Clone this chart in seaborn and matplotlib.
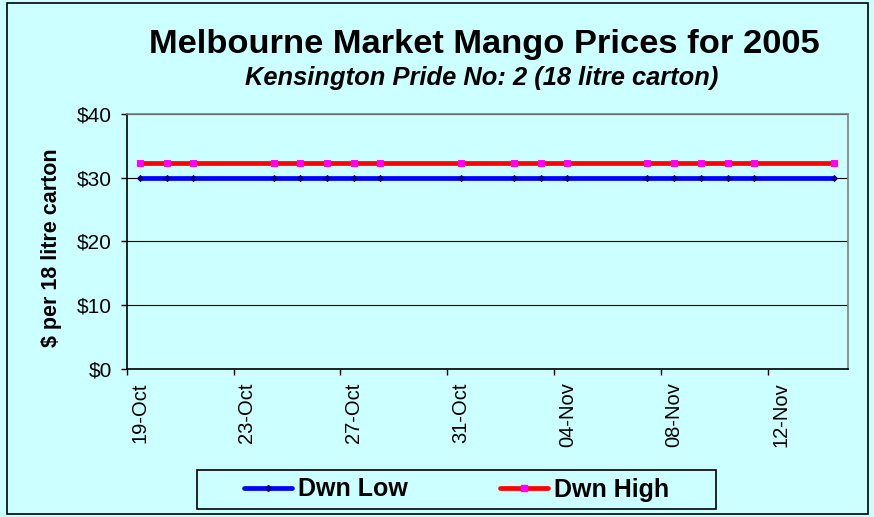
import pandas as pd
import numpy as np
import matplotlib
matplotlib.use("Agg")
import matplotlib.pyplot as plt
import matplotlib.dates as mdates
from matplotlib.lines import Line2D
import seaborn as sns

# --- data ---
dates = ["2005-10-19", "2005-10-20", "2005-10-21", "2005-10-24", "2005-10-25",
         "2005-10-26", "2005-10-27", "2005-10-28", "2005-10-31", "2005-11-02",
         "2005-11-03", "2005-11-04", "2005-11-07", "2005-11-08", "2005-11-09",
         "2005-11-10", "2005-11-11", "2005-11-14"]
dwn_low = [30] * len(dates)
dwn_high = [32.25] * len(dates)
tick_labels = ["19-Oct", "23-Oct", "27-Oct", "31-Oct", "04-Nov", "08-Nov", "12-Nov"]
y_ticks = [0, 10, 20, 30, 40]

BG = "#CCFFFF"

df = pd.DataFrame({"date": pd.to_datetime(dates), "Dwn Low": dwn_low, "Dwn High": dwn_high})

sns.set_theme(style="white")
plt.rcParams["font.family"] = ["Liberation Sans", "DejaVu Sans"]
plt.rcParams.update({"text.color": "black", "axes.labelcolor": "black",
                     "xtick.color": "black", "ytick.color": "black"})

fig = plt.figure(figsize=(8.74, 5.17), dpi=100, facecolor=BG)
ax = fig.add_axes([0.145, 0.2868, 0.825, 0.4927])
ax.set_facecolor(BG)

sns.lineplot(data=df, x="date", y="Dwn Low", ax=ax, color="#0000FF", lw=3.4,
             marker="D", markersize=3, markerfacecolor="#000080", markeredgecolor="#000080")
sns.lineplot(data=df, x="date", y="Dwn High", ax=ax, color="#FF0000", lw=3.4,
             marker="s", markersize=4, markerfacecolor="#FF00FF", markeredgecolor="#FF00FF")

# x axis: labels on days, tick marks between days
d0 = mdates.date2num(pd.Timestamp(dates[0]))
label_pos = [d0 + 4 * i for i in range(len(tick_labels))]
ax.set_xlim(d0 - 0.5, mdates.date2num(pd.Timestamp(dates[-1])) + 0.5)
ax.set_xticks(label_pos)
ax.set_xticklabels(tick_labels, rotation=90, fontsize=14.5)
ax.set_xticks([p - 0.5 for p in label_pos], minor=True)
ax.tick_params(axis="x", which="major", length=0, pad=10)
ax.tick_params(axis="x", which="minor", length=4.3, width=1, color="black", bottom=True)

ax.set_ylim(0, 40)
ax.set_yticks(y_ticks)
ax.set_yticklabels([f"${v}" for v in y_ticks], fontsize=15)
ax.tick_params(axis="y", length=4.3, width=1, color="black", left=True, pad=6.5)
ax.yaxis.grid(True, color="black", lw=0.8)
ax.set_axisbelow(True)

ax.set_xlabel("")
ax.set_ylabel("$ per 18 litre carton", fontsize=15.5, fontweight="bold")
ax.yaxis.set_label_coords(-0.09, 0.476)

for s in ["left", "bottom"]:
    ax.spines[s].set_color("black")
    ax.spines[s].set_linewidth(1.2)
for s in ["top", "right"]:
    ax.spines[s].set_color("gray")
    ax.spines[s].set_linewidth(1.2)

fig.text(0.554, 0.913, "Melbourne Market Mango Prices for 2005", ha="center", va="center",
         fontsize=24.8, fontweight="bold")
fig.text(0.551, 0.849, "Kensington Pride No: 2 (18 litre carton)", ha="center", va="center",
         fontsize=18.4, fontweight="bold", style="italic")

# legend: entries without frame, box drawn separately
handles = [Line2D([], [], color="#0000FF", lw=3.4, marker="D", markersize=3,
                  markerfacecolor="#000080", markeredgecolor="#000080"),
           Line2D([], [], color="#FF0000", lw=3.4, marker="s", markersize=4,
                  markerfacecolor="#FF00FF", markeredgecolor="#FF00FF")]
leg = ax.legend(handles, ["Dwn Low", "Dwn High"], loc="center",
                bbox_to_anchor=(456.5 / 874, 1 - 489.5 / 517),
                bbox_transform=fig.transFigure, ncol=2, frameon=False,
                handlelength=1.92, handletextpad=0.24, columnspacing=3.7,
                prop={"weight": "bold", "size": 18})
fig.patches.append(plt.Rectangle((197 / 874, 1 - 509 / 517), 519 / 874, 39 / 517,
                                 transform=fig.transFigure, fill=False,
                                 edgecolor="black", lw=1.2))

# outer chart border
fig.patches.append(plt.Rectangle((7 / 874, 3 / 517), 861 / 874, 511 / 517,
                                 transform=fig.transFigure, fill=False,
                                 edgecolor="black", lw=1.2))

fig.savefig("out.png", dpi=100, facecolor=BG)
